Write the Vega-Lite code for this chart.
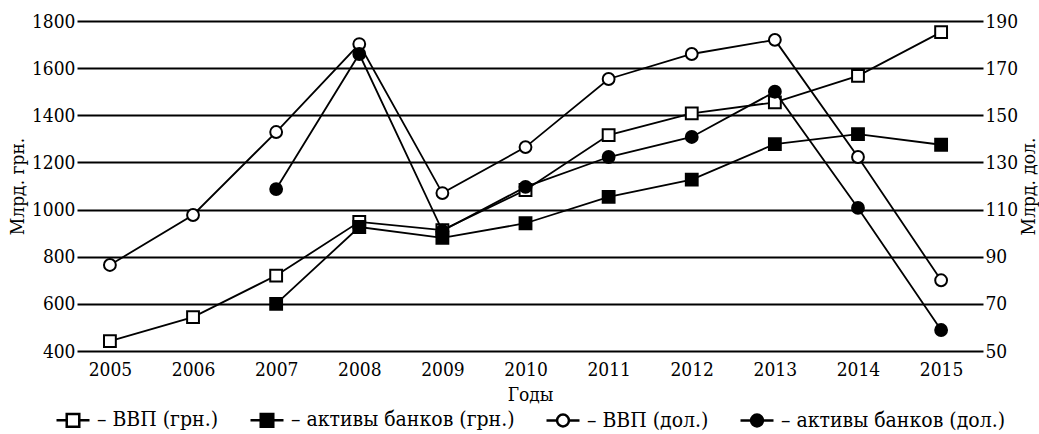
{
  "$schema": "https://vega.github.io/schema/vega-lite/v6.json",
  "width": 906,
  "height": 330,
  "autosize": {"type": "none"},
  "padding": {"left": 77, "top": 21, "right": 56, "bottom": 83},
  "background": "white",
  "config": {
    "font": "DejaVu Serif Condensed",
    "view": {"stroke": null},
    "axis": {"labelFont": "DejaVu Serif Condensed", "titleFont": "DejaVu Serif Condensed", "labelFontSize": 19, "titleFontSize": 19, "labelColor": "black", "titleColor": "black", "titleFontWeight": "normal"},
    "legend": {"labelFont": "DejaVu Serif Condensed", "labelFontSize": 21, "labelColor": "black", "labelLimit": 0}
  },
  "data": {
    "values": [
      {"year": "2005", "series": "ВВП (грн.)", "unit": "грн", "value": 442},
      {"year": "2006", "series": "ВВП (грн.)", "unit": "грн", "value": 544},
      {"year": "2007", "series": "ВВП (грн.)", "unit": "грн", "value": 720},
      {"year": "2008", "series": "ВВП (грн.)", "unit": "грн", "value": 948},
      {"year": "2009", "series": "ВВП (грн.)", "unit": "грн", "value": 913},
      {"year": "2010", "series": "ВВП (грн.)", "unit": "грн", "value": 1083},
      {"year": "2011", "series": "ВВП (грн.)", "unit": "грн", "value": 1316},
      {"year": "2012", "series": "ВВП (грн.)", "unit": "грн", "value": 1408},
      {"year": "2013", "series": "ВВП (грн.)", "unit": "грн", "value": 1455},
      {"year": "2014", "series": "ВВП (грн.)", "unit": "грн", "value": 1567},
      {"year": "2015", "series": "ВВП (грн.)", "unit": "грн", "value": 1753},
      {"year": "2007", "series": "активы банков (грн.)", "unit": "грн", "value": 600},
      {"year": "2008", "series": "активы банков (грн.)", "unit": "грн", "value": 926},
      {"year": "2009", "series": "активы банков (грн.)", "unit": "грн", "value": 880},
      {"year": "2010", "series": "активы банков (грн.)", "unit": "грн", "value": 942},
      {"year": "2011", "series": "активы банков (грн.)", "unit": "грн", "value": 1054},
      {"year": "2012", "series": "активы банков (грн.)", "unit": "грн", "value": 1127},
      {"year": "2013", "series": "активы банков (грн.)", "unit": "грн", "value": 1278},
      {"year": "2014", "series": "активы банков (грн.)", "unit": "грн", "value": 1320},
      {"year": "2015", "series": "активы банков (грн.)", "unit": "грн", "value": 1275},
      {"year": "2005", "series": "ВВП (дол.)", "unit": "дол", "value": 86.5},
      {"year": "2006", "series": "ВВП (дол.)", "unit": "дол", "value": 107.7},
      {"year": "2007", "series": "ВВП (дол.)", "unit": "дол", "value": 142.9},
      {"year": "2008", "series": "ВВП (дол.)", "unit": "дол", "value": 180.2},
      {"year": "2009", "series": "ВВП (дол.)", "unit": "дол", "value": 117},
      {"year": "2010", "series": "ВВП (дол.)", "unit": "дол", "value": 136.5},
      {"year": "2011", "series": "ВВП (дол.)", "unit": "дол", "value": 165.4},
      {"year": "2012", "series": "ВВП (дол.)", "unit": "дол", "value": 176},
      {"year": "2013", "series": "ВВП (дол.)", "unit": "дол", "value": 182},
      {"year": "2014", "series": "ВВП (дол.)", "unit": "дол", "value": 132.3},
      {"year": "2015", "series": "ВВП (дол.)", "unit": "дол", "value": 80},
      {"year": "2007", "series": "активы банков (дол.)", "unit": "дол", "value": 118.7},
      {"year": "2008", "series": "активы банков (дол.)", "unit": "дол", "value": 176},
      {"year": "2009", "series": "активы банков (дол.)", "unit": "дол", "value": 101},
      {"year": "2010", "series": "активы банков (дол.)", "unit": "дол", "value": 119.6},
      {"year": "2011", "series": "активы банков (дол.)", "unit": "дол", "value": 132.3},
      {"year": "2012", "series": "активы банков (дол.)", "unit": "дол", "value": 140.8},
      {"year": "2013", "series": "активы банков (дол.)", "unit": "дол", "value": 160},
      {"year": "2014", "series": "активы банков (дол.)", "unit": "дол", "value": 110.7},
      {"year": "2015", "series": "активы банков (дол.)", "unit": "дол", "value": 58.9}
    ]
  },
  "layer": [
    {
      "transform": [{"filter": "datum.unit === 'грн'"}],
      "encoding": {
        "x": {"field": "year", "type": "ordinal", "scale": {"type": "point", "padding": 0.45, "align": 0.44},
          "axis": {"title": "Годы", "labelAngle": 0, "domain": false, "ticks": false, "grid": false, "labelPadding": 9, "titlePadding": 6}},
        "y": {"field": "value", "type": "quantitative", "scale": {"domain": [400, 1800], "nice": false, "zero": false},
          "axis": {"title": "Млрд. грн.", "format": "d", "values": [400, 600, 800, 1000, 1200, 1400, 1600, 1800], "domain": false, "ticks": false, "grid": true, "gridColor": "black", "gridWidth": 2, "gridOpacity": 1, "labelPadding": 2, "titlePadding": 4}},
        "detail": {"field": "series"}
      },
      "layer": [
        {"mark": {"type": "line", "color": "black", "strokeWidth": 1.8}},
        {"mark": {"type": "point", "filled": true, "stroke": "black", "strokeWidth": 2, "size": 140, "opacity": 1},
          "encoding": {
            "shape": {"field": "series", "type": "nominal", "legend": null, "scale": {"domain": ["ВВП (грн.)", "активы банков (грн.)", "ВВП (дол.)", "активы банков (дол.)"], "range": ["square", "square", "circle", "circle"]}},
            "fill": {"field": "series", "type": "nominal", "legend": null, "scale": {"domain": ["ВВП (грн.)", "активы банков (грн.)", "ВВП (дол.)", "активы банков (дол.)"], "range": ["white", "black", "white", "black"]}}
          }}
      ]
    },
    {
      "transform": [{"filter": "datum.unit === 'дол'"}],
      "encoding": {
        "x": {"field": "year", "type": "ordinal", "scale": {"type": "point", "padding": 0.45, "align": 0.44}},
        "y": {"field": "value", "type": "quantitative", "scale": {"domain": [50, 190], "nice": false, "zero": false},
          "axis": {"orient": "right", "title": "Млрд. дол.", "titleAngle": -90, "format": "d", "values": [50, 70, 90, 110, 130, 150, 170, 190], "domain": false, "ticks": false, "grid": false, "labelPadding": 2, "titlePadding": 21}},
        "detail": {"field": "series"}
      },
      "layer": [
        {"mark": {"type": "line", "color": "black", "strokeWidth": 1.8}},
        {"mark": {"type": "point", "filled": true, "stroke": "black", "strokeWidth": 2, "size": 140, "opacity": 1},
          "encoding": {
            "shape": {"field": "series", "type": "nominal", "legend": null, "scale": {"domain": ["ВВП (грн.)", "активы банков (грн.)", "ВВП (дол.)", "активы банков (дол.)"], "range": ["square", "square", "circle", "circle"]}},
            "fill": {"field": "series", "type": "nominal", "legend": null, "scale": {"domain": ["ВВП (грн.)", "активы банков (грн.)", "ВВП (дол.)", "активы банков (дол.)"], "range": ["white", "black", "white", "black"]}}
          }}
      ]
    },
    {
      "transform": [{"filter": "false"}],
      "mark": {"type": "point", "filled": true, "stroke": "black", "strokeWidth": 2.5, "opacity": 1},
      "encoding": {
        "shape": {"field": "series", "type": "nominal",
          "scale": {"domain": ["ВВП (грн.)", "активы банков (грн.)", "ВВП (дол.)", "активы банков (дол.)"],
            "range": ["M-1,0H-0.38M0.38,0H1M-0.38,-0.38H0.38V0.38H-0.38Z", "M-1,0H-0.38M0.38,0H1M-0.38,-0.38H0.38V0.38H-0.38Z", "M-1,0H-0.36M0.36,0H1M0.36,0A0.36,0.36,0,1,1,-0.36,0A0.36,0.36,0,1,1,0.36,0Z", "M-1,0H-0.36M0.36,0H1M0.36,0A0.36,0.36,0,1,1,-0.36,0A0.36,0.36,0,1,1,0.36,0Z"]},
          "legend": {"title": null, "orient": "none", "legendX": -22, "legendY": 381, "direction": "horizontal", "columns": 4, "columnPadding": 26, "symbolSize": 1089, "symbolStrokeWidth": 2.5, "symbolOpacity": 1, "labelOffset": 6, "labelLimit": 0, "labelExpr": "'– ' + datum.label",
            "encode": {"symbols": {"stroke": {"value": "black"}, "strokeWidth": {"value": 2.5}, "opacity": {"value": 1}}}}},
        "fill": {"field": "series", "type": "nominal",
          "scale": {"domain": ["ВВП (грн.)", "активы банков (грн.)", "ВВП (дол.)", "активы банков (дол.)"], "range": ["white", "black", "white", "black"]}}
      }
    }
  ],
  "resolve": {"scale": {"y": "independent", "shape": "independent", "fill": "independent"}}
}
